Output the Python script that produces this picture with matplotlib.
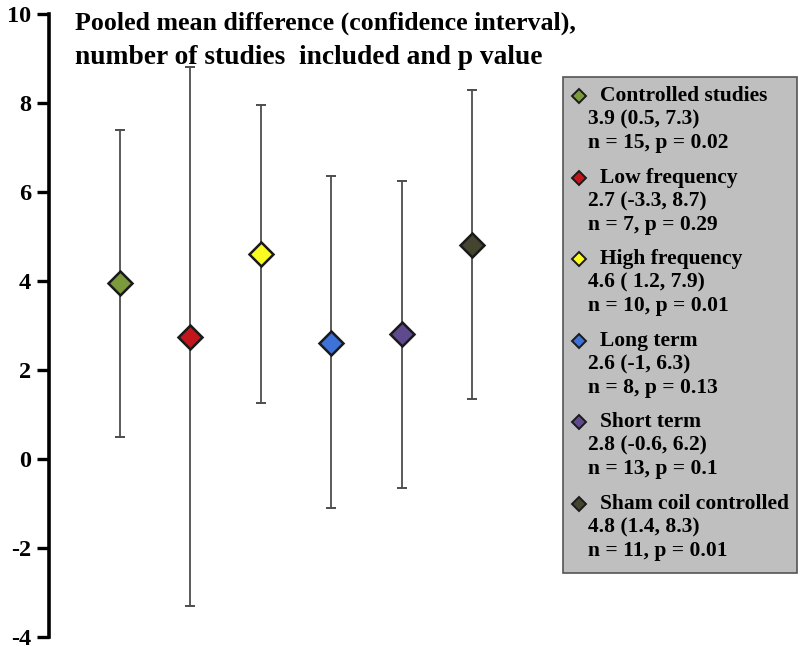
import matplotlib
matplotlib.use("Agg")
import matplotlib.pyplot as plt
from matplotlib.patches import Rectangle

categories = ["Controlled studies", "Low frequency", "High frequency",
              "Long term", "Short term", "Sham coil controlled"]
means = [3.95, 2.75, 4.6, 2.6, 2.8, 4.82]
lower = [0.5, -3.3, 1.25, -1.1, -0.65, 1.35]
upper = [7.4, 8.8, 7.95, 6.35, 6.25, 8.3]
summary = ["3.9 (0.5, 7.3)", "2.7 (-3.3, 8.7)", "4.6 ( 1.2, 7.9)",
           "2.6 (-1, 6.3)", "2.8 (-0.6, 6.2)", "4.8 (1.4, 8.3)"]
stats = ["n = 15, p = 0.02", "n = 7, p = 0.29", "n = 10, p = 0.01",
         "n = 8, p = 0.13", "n = 13, p = 0.1", "n = 11, p = 0.01"]
colors = ["#7b9a3c", "#c2161d", "#fbfb22", "#3d72d9", "#5e4a8c", "#45452f"]
yticks = [-4, -2, 0, 2, 4, 6, 8, 10]
title_lines = ["Pooled mean difference (confidence interval),",
               "number of studies  included and p value"]

W, H = 800, 647
plt.rcParams['font.family'] = ['Liberation Serif', 'DejaVu Serif']
fig = plt.figure(figsize=(W / 100, H / 100), dpi=100)
ax = fig.add_axes([49 / W, 10 / H, 1 - 49 / W, (637 - 14) / H])

x = list(range(1, len(categories) + 1))
for i in range(len(categories)):
    ax.errorbar(x[i], means[i],
                yerr=[[means[i] - lower[i]], [upper[i] - means[i]]],
                fmt='none', ecolor='#4d4d4d', elinewidth=1.3,
                capsize=3.8, capthick=1.4, zorder=2)
    ax.plot(x[i], means[i], marker='D', markersize=12.5, color=colors[i],
            markeredgecolor='#1a1a1a', markeredgewidth=1.8, linestyle='none',
            zorder=3)

ax.set_xlim(0, 10.65)
ax.set_ylim(-4, 10)
ax.set_yticks(yticks)
ax.set_yticklabels([str(t) for t in yticks], fontsize=17.5, fontweight='bold')
ax.tick_params(axis='y', length=9, width=2.4, pad=4, direction='out')
ax.set_xticks([])
for s in ['top', 'right', 'bottom']:
    ax.spines[s].set_visible(False)
ax.spines['left'].set_linewidth(2.6)

def px(xp, yp):
    return xp / W, 1 - yp / H

fig.text(*px(75, 23), title_lines[0], fontsize=18.6, fontweight='bold',
         va='center', ha='left')
fig.text(*px(75, 58), title_lines[1], fontsize=19.8, fontweight='bold',
         va='center', ha='left')

# legend box
x0, y0 = px(563, 573)
x1, y1 = px(797, 77)
fig.patches.append(Rectangle((x0, y0), x1 - x0, y1 - y0, transform=fig.transFigure,
                             facecolor='#bfbfbf', edgecolor='#555555',
                             linewidth=1.2, zorder=0))
for i in range(len(categories)):
    ytop = 96 + i * 81.6
    mx, my = px(579, ytop)
    fig.add_artist(plt.Line2D([mx], [my], marker='D', markersize=7.5,
                              color=colors[i], markeredgecolor='#1a1a1a',
                              markeredgewidth=1.4, transform=fig.transFigure))
    fig.text(*px(600, ytop), categories[i], fontsize=15.5, fontweight='bold',
             va='center', ha='left')
    fig.text(*px(588, ytop + 23.5), summary[i], fontsize=15.5, fontweight='bold',
             va='center', ha='left')
    fig.text(*px(588, ytop + 47), stats[i], fontsize=15.5, fontweight='bold',
             va='center', ha='left')

fig.savefig("out.png", dpi=100)
